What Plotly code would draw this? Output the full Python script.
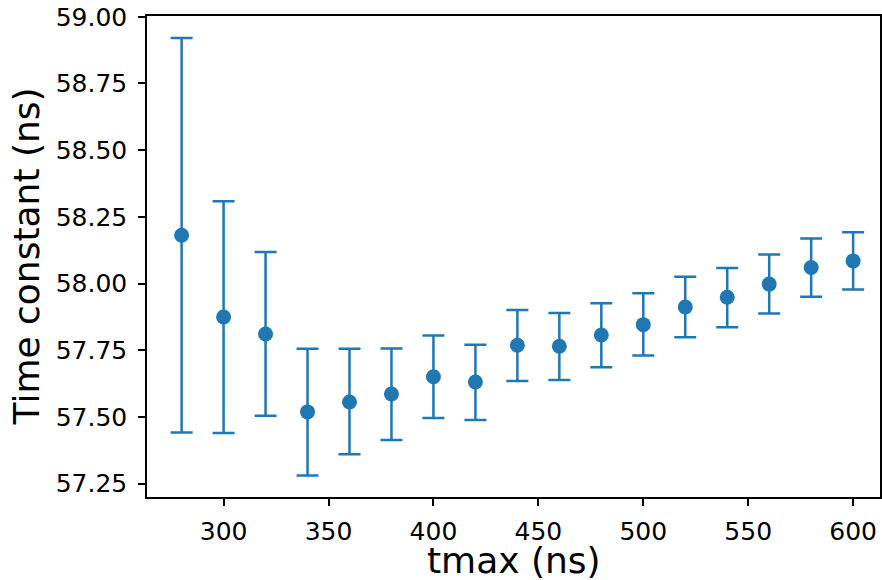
import plotly.graph_objects as go

tmax = [280, 300, 320, 340, 360, 380, 400, 420, 440, 460, 480, 500, 520, 540, 560, 580, 600]
tau = [58.181, 57.875, 57.811, 57.519, 57.556, 57.586, 57.651, 57.631, 57.769, 57.765,
       57.807, 57.846, 57.912, 57.949, 57.998, 58.060, 58.085]
upper = [58.921, 58.309, 58.118, 57.756, 57.756, 57.757, 57.805, 57.771, 57.901, 57.890,
         57.926, 57.964, 58.026, 58.058, 58.109, 58.169, 58.192]
lower = [57.442, 57.440, 57.505, 57.281, 57.360, 57.414, 57.496, 57.489, 57.635, 57.639,
         57.686, 57.730, 57.799, 57.836, 57.888, 57.951, 57.978]
x_ticks = [300, 350, 400, 450, 500, 550, 600]
y_ticks = [57.25, 57.5, 57.75, 58.0, 58.25, 58.5, 58.75, 59.0]

err_plus = [u - t for u, t in zip(upper, tau)]
err_minus = [t - l for t, l in zip(tau, lower)]

color = "#1f77b4"
fig = go.Figure(go.Scatter(
    x=tmax, y=tau, mode="markers",
    marker=dict(color=color, size=15),
    error_y=dict(type="data", symmetric=False, array=err_plus, arrayminus=err_minus,
                 color=color, thickness=2.5, width=11),
))

axis_common = dict(
    showline=True, linecolor="black", linewidth=1.5, mirror=True,
    ticks="outside", ticklen=7, tickwidth=1.5, tickcolor="black",
    showgrid=False, zeroline=False, automargin=False, ticklabeloverflow="allow",
    tickfont=dict(family="DejaVu Sans", size=25, color="black"),
)

fig.update_layout(
    width=882, height=580,
    margin=dict(l=147, r=2, t=16, b=83),
    paper_bgcolor="white", plot_bgcolor="white",
    showlegend=False,
    font=dict(family="DejaVu Sans", color="black"),
    xaxis=dict(range=[263.5, 612.8], tickvals=x_ticks, ticklabelstandoff=4, **axis_common),
    yaxis=dict(range=[57.2, 59.003], tickvals=y_ticks, tickformat=".2f",
               ticklabelstandoff=6, **axis_common),
    annotations=[
        dict(text="tmax (ns)", xref="paper", yref="paper", x=0.5, y=0,
             xanchor="center", yanchor="bottom", yshift=-86, showarrow=False,
             font=dict(family="DejaVu Sans", size=36, color="black")),
        dict(text="Time constant (ns)", xref="paper", yref="paper", x=0, y=0.5,
             xanchor="center", yanchor="middle", xshift=-121, textangle=-90, showarrow=False,
             font=dict(family="DejaVu Sans", size=36, color="black")),
    ],
)

fig.write_html("out.html", config={"displayModeBar": False},
               post_script="document.body.style.margin='0';")
